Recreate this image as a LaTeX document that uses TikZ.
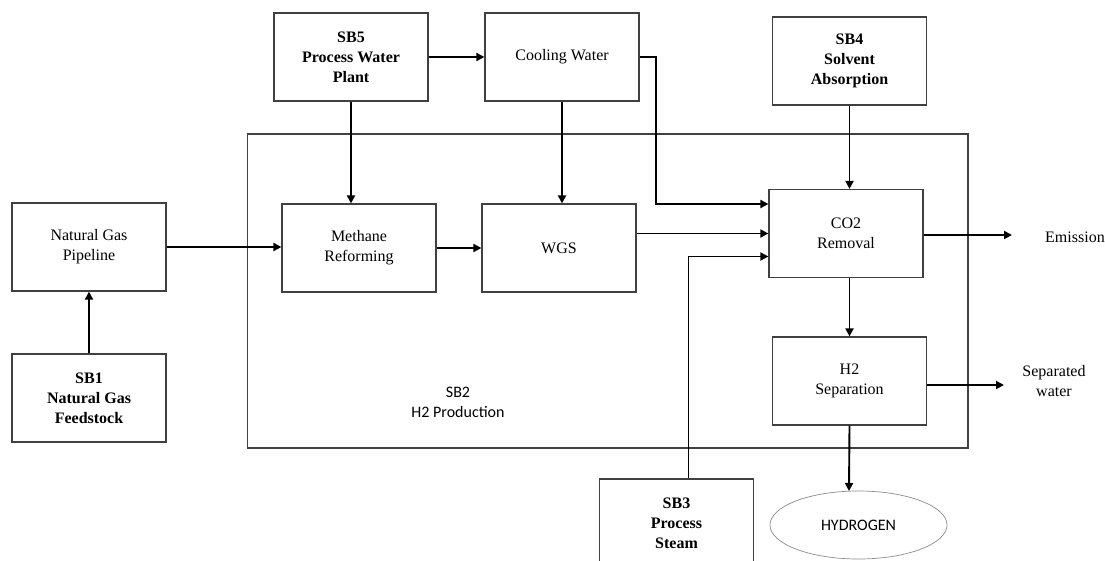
\documentclass[tikz,border=0pt]{standalone}
\usepackage{fontspec}
\setmainfont{Liberation Serif}
\newfontfamily\calfont{Carlito}
\usetikzlibrary{arrows.meta,shapes.geometric,calc}
\tikzset{
  box/.style={draw=black!75, line width=1.2pt, minimum width=154pt, minimum height=88pt, inner sep=0pt, align=center, font=\fontsize{16}{20}\selectfont},
  boldbox/.style={box, font=\fontsize{16}{20}\selectfont\bfseries},
  arr/.style={line width=1.9pt, -{Triangle[length=8pt,width=8pt]}},
  lbl/.style={inner sep=0pt, align=center, font=\fontsize{16}{20}\selectfont}
}
\begin{document}
\begin{tikzpicture}[x=1pt,y=-1pt]
\useasboundingbox (0,0) rectangle (1105,560);
\fill[white] (0,0) rectangle (1105,560);
% H2 production frame
\draw[black!75, line width=1.2pt] (247.5,134) rectangle (968,448);
\node[lbl, font=\fontsize{16}{20}\selectfont\calfont] (sb2) at (458,402) {SB2\\H2 Production};
% boxes
\node[boldbox] (sb5) at (351,57) {SB5\\Process Water\\Plant};
\node[box] (cool) at (562,57) {Cooling Water};
\node[boldbox] (sb4) at (849.5,61) {SB4\\Solvent\\Absorption};
\node[box] (ng) at (89,247) {Natural Gas\\Pipeline};
\node[box] (mr) at (359,248) {Methane\\Reforming};
\node[box] (wgs) at (559,248) {WGS};
\node[box] (co2) at (846,233.5) {CO2\\Removal};
\node[box] (h2) at (849.5,381) {H2\\Separation};
\node[boldbox] (sb1) at (89,398) {SB1\\Natural Gas\\Feedstock};
\node[boldbox] (sb3) at (676.5,523) {SB3\\Process\\Steam};
\node[ellipse, draw=black!45, line width=0.7pt, minimum width=177pt, minimum height=68pt, inner sep=0pt, font=\fontsize{16}{20}\selectfont\calfont] (hyd) at (858.5,525) {HYDROGEN};
\node[lbl, anchor=west] (emis) at (1045,237) {Emission};
\node[lbl] (sepw) at (1054,381) {Separated\\water};
% helper coordinates
\coordinate (cwx) at (656,0);
\coordinate (stx) at (688.5,0);
\coordinate (emisend) at (1012,235);
\coordinate (sepend) at (1004,385);
\coordinate (hydtop) at (849,491);
% connectors
\draw[arr] (sb5.east) -- (cool.west);
\draw[arr] (sb5.south) -- (sb5.south |- mr.north);
\draw[arr] (cool.south) -- (cool.south |- wgs.north);
\draw[arr] (sb1.north) -- (ng.south);
\draw[arr] (ng.east) -- (mr.west |- ng.east);
\draw[arr] (mr.east) -- (wgs.west |- mr.east);
\draw[arr] (cool.east |- 0,57) -- (cwx |- 0,57) -- (cwx |- 0,204) -- (co2.west |- 0,204);
\draw[arr] (co2.west -| wgs.east) -- (co2.west);
\draw[arr] (stx |- sb3.north) -- (stx |- 0,256.5) -- (co2.west |- 0,256.5);
\draw[arr] (sb4.south) -- (sb4.south |- co2.north);
\draw[arr] (h2.north |- co2.south) -- (h2.north);
\draw[arr] (h2.south) -- (hydtop);
\draw[arr] (co2.east |- emisend) -- (emisend);
\draw[arr] (h2.east |- sepend) -- (sepend);
\end{tikzpicture}
\end{document}
